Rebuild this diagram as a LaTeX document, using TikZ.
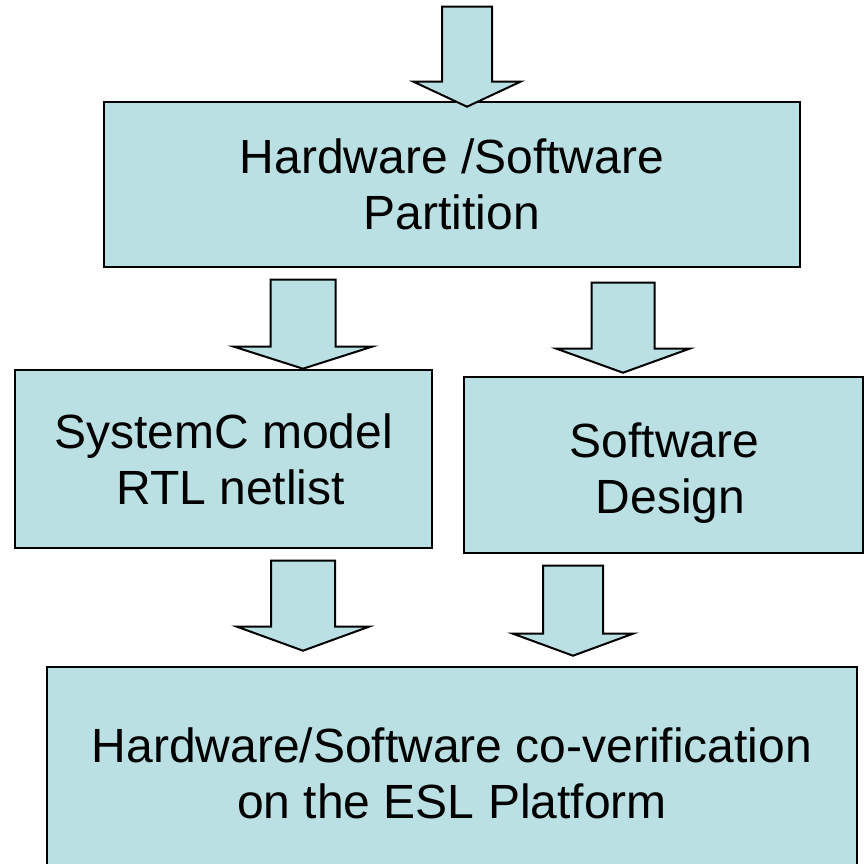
\documentclass[tikz,border=0pt]{standalone}
\usepackage{fontspec}
\setmainfont{Liberation Sans}
\usetikzlibrary{calc}

\definecolor{boxfill}{HTML}{BBE0E3}

% Block arrow pointing down: tip, shaft half-width, head half-width, head length, total length
\newcommand\downblock[5]{%
  \draw[barrow] (#1) -- ++({-#3},{-#4}) -- ++({#3-#2},0) -- ++(0,{-(#5-#4)})
    -- ++({2*#2},0) -- ++(0,{#5-#4}) -- ++({#3-#2},0) -- cycle;}

\begin{document}
\begin{tikzpicture}[x=1pt,y=-1pt,
  stagetext/.style={align=center, inner sep=0pt, font=\fontsize{48}{56}\selectfont},
  stage/.style={stagetext, draw=black, line width=2.6pt, fill=boxfill},
  barrow/.style={draw=black, line width=2pt, fill=boxfill, line join=miter}]
\useasboundingbox (0,0) rectangle (867,864);

\node[stage, minimum width=696, minimum height=165] (part) at (452,184.5)
  {Hardware /Software\\Partition};
\node[stage, minimum width=417, minimum height=178] (hw) at (223.5,459)
  {SystemC model\\\hspace*{14pt}RTL netlist};
\node[stage, minimum width=399, minimum height=176] (sw) at (663.5,465) {};
\node[stagetext] (swtext) at ($(sw.center)+(1,8)$)
  {Software\\\hspace*{12pt}Design};
\node[stage, minimum width=810, minimum height=213] (cover) at (452,773.5)
  {Hardware/Software co-verification\\on the ESL Platform};

% flow arrows between the stages
\coordinate (t0) at ($(part.north)+(15,6)$);
\coordinate (t1) at ($(hw.north)+(79.5,0)$);
\coordinate (t2) at ($(sw.north)+(-40.5,-3)$);
\coordinate (t3) at ($(cover.north)+(-149,-15)$);
\coordinate (t4) at ($(cover.north)+(121,-10)$);

\downblock{t0}{25}{53.5}{25}{100}
\downblock{t1}{32.5}{69}{22}{89}
\downblock{t2}{31.5}{66.5}{24}{90}
\downblock{t3}{32}{66}{24}{90}
\downblock{t4}{30}{60}{22}{90}
\end{tikzpicture}
\end{document}
